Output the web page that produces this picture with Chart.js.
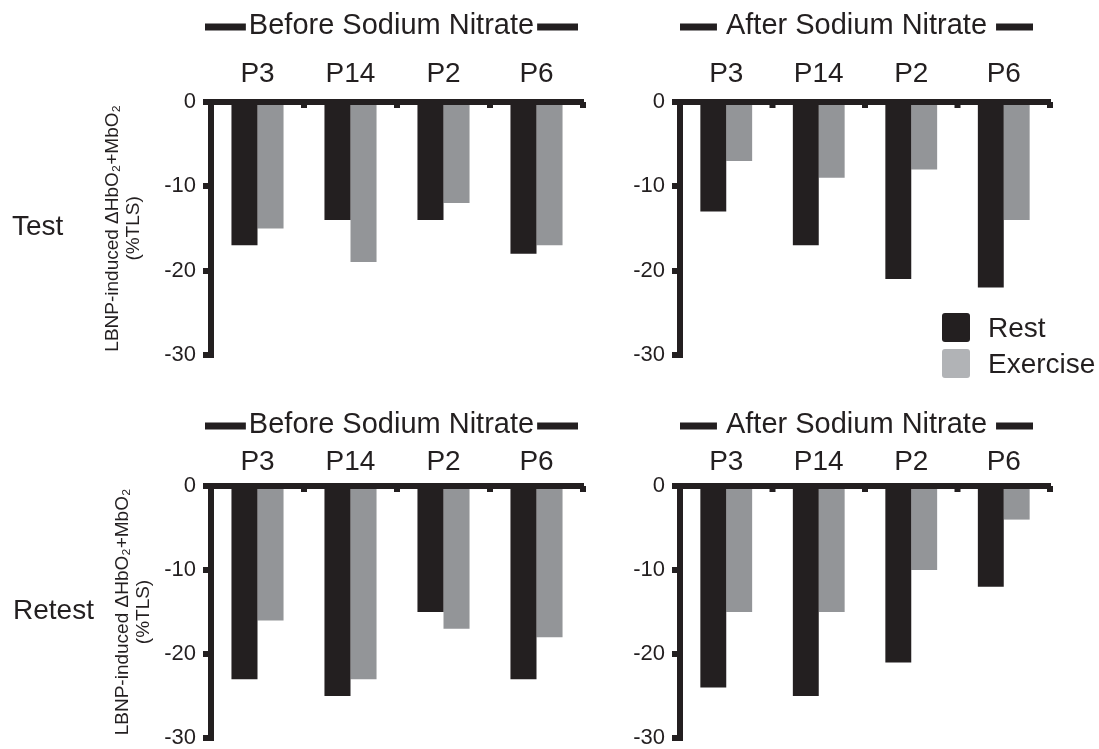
<!DOCTYPE html>
<html lang="en">
<head>
    <meta charset="UTF-8">
    <title>LBNP-induced ΔHbO2+MbO2 — Test / Retest</title>
    <script src="https://cdn.jsdelivr.net/npm/chart.js"></script>
    <style>
        body { margin: 0; background: #fff; overflow: hidden; }
        #page { position: relative; width: 1099px; height: 749px; font-family: "Liberation Sans", Arial, Helvetica, sans-serif; color: #231f20; }
        #page canvas { position: absolute; }
        .row-label { position: absolute; font-size: 28px; line-height: 28px; }
        .legend-item { position: absolute; left: 942px; display: flex; align-items: center; font-size: 28px; line-height: 28px; }
        .legend-item span { display: inline-block; width: 28px; height: 29px; border-radius: 3px; margin-right: 18px; }
    </style>
</head>
<body>
<div id="page">
    <canvas id="testBefore" width="600" height="375" style="left:0;top:0"></canvas>
    <canvas id="testAfter" width="499" height="375" style="left:600px;top:0"></canvas>
    <canvas id="retestBefore" width="600" height="390" style="left:0;top:375px"></canvas>
    <canvas id="retestAfter" width="499" height="390" style="left:600px;top:375px"></canvas>

    <div class="row-label" style="left:12px;top:212px">Test</div>
    <div class="row-label" style="left:13px;top:596px">Retest</div>

    <div class="legend-item" style="top:313px"><span style="background:#231f20"></span>Rest</div>
    <div class="legend-item" style="top:349px"><span style="background:#b1b3b6"></span>Exercise</div>
</div>

<script>
    // values (%TLS)
    const participants = ['P3', 'P14', 'P2', 'P6'];
    const yTicks = [-30, -20, -10, 0];

    const testBeforeRest = [-17, -14, -14, -18];
    const testBeforeExercise = [-15, -19, -12, -17];
    const testAfterRest = [-13, -17, -21, -22];
    const testAfterExercise = [-7, -9, -8, -14];

    const retestBeforeRest = [-23, -25, -15, -23];
    const retestBeforeExercise = [-16, -23, -17, -18];
    const retestAfterRest = [-24, -25, -21, -12];
    const retestAfterExercise = [-15, -15, -10, -4];

    const ink = '#231f20';
    const restColor = '#231f20';
    const exerciseColor = '#939598';
    const fontFamily = '"Liberation Sans", Arial, Helvetica, sans-serif';

    Chart.defaults.font.family = fontFamily;
    Chart.defaults.color = ink;

    // "▬▬ Before Sodium Nitrate ▬▬" heading above each panel
    const bannerPlugin = {
        id: 'banner',
        afterDraw(chart, args, opts) {
            const { ctx, chartArea } = chart;
            const x0 = chartArea.left + opts.startOffset;
            const x1 = chartArea.right + opts.endOffset;
            const mid = (x0 + x1) / 2;
            ctx.save();
            ctx.font = `${opts.size}px ${fontFamily}`;
            const w = ctx.measureText(opts.text).width;
            ctx.fillStyle = ink;
            ctx.textAlign = 'center';
            ctx.textBaseline = 'middle';
            ctx.fillText(opts.text, mid, opts.y);
            const a = mid - w / 2 - opts.gap;
            const b = mid + w / 2 + opts.gap;
            ctx.fillRect(x0, opts.y - 2.5, a - x0, 7);
            ctx.fillRect(b, opts.y - 2.5, x1 - b, 7);
            ctx.restore();
        }
    };

    // small notches under the zero line between participants
    const dividerTicks = {
        id: 'dividerTicks',
        afterDatasetsDraw(chart) {
            const { ctx, chartArea } = chart;
            const x = chart.scales.x;
            const step = x.getPixelForValue(1) - x.getPixelForValue(0);
            ctx.save();
            ctx.fillStyle = ink;
            participants.forEach((p, i) => {
                const px = x.getPixelForValue(i) + step / 2;
                ctx.fillRect(px - 3, chartArea.top, 6, 6);
            });
            ctx.restore();
        }
    };

    function drawPanel(id, rest, exercise, p) {
        new Chart(document.getElementById(id), {
            type: 'bar',
            data: {
                labels: participants,
                datasets: [
                    { label: 'Rest', data: rest, backgroundColor: restColor },
                    { label: 'Exercise', data: exercise, backgroundColor: exerciseColor }
                ]
            },
            options: {
                responsive: false,
                animation: false,
                layout: { padding: { left: 0, top: 0, right: p.padRight, bottom: p.padBottom } },
                datasets: { bar: { categoryPercentage: 0.56, barPercentage: 1 } },
                plugins: {
                    legend: { display: false },
                    tooltip: { enabled: false },
                    banner: p.banner
                },
                scales: {
                    x: {
                        position: 'top',
                        offset: true,
                        grid: { display: false, drawTicks: false },
                        border: { display: true, width: 6, color: ink, z: 1 },
                        ticks: { font: { size: 28 }, padding: p.catPad, maxRotation: 0, color: ink },
                        afterFit: s => { s.height = p.areaTop; }
                    },
                    y: {
                        min: -30,
                        max: 0,
                        afterBuildTicks: s => { s.ticks = yTicks.map(v => ({ value: v })); },
                        grid: { drawOnChartArea: false, tickLength: 8, lineWidth: 6, color: ink },
                        border: { width: 6, color: ink, z: 1 },
                        ticks: { font: { size: 22 }, padding: 7, color: ink },
                        title: {
                            display: p.yTitle,
                            text: ['LBNP-induced \u0394HbO\u2082+MbO\u2082', '(%TLS)'],
                            font: { size: 19, lineHeight: 1.1 },
                            padding: { top: p.yTitlePad, bottom: 0 },
                            color: ink
                        },
                        afterFit: s => { s.width = p.areaLeft; }
                    }
                }
            },
            plugins: [bannerPlugin, dividerTicks]
        });
    }

    const beforeBanner = { text: 'Before Sodium Nitrate', size: 29, startOffset: -6, endOffset: -5, gap: 3 };
    const afterBanner = { text: 'After Sodium Nitrate', size: 29, startOffset: 0, endOffset: -17, gap: 9 };

    drawPanel('testBefore', testBeforeRest, testBeforeExercise, {
        areaLeft: 211, areaTop: 102, padRight: 17, padBottom: 18, catPad: 11, yTitle: true, yTitlePad: 102,
        banner: { ...beforeBanner, y: 26 }
    });
    drawPanel('testAfter', testAfterRest, testAfterExercise, {
        areaLeft: 80, areaTop: 102, padRight: 49, padBottom: 18, catPad: 11, yTitle: false, yTitlePad: 0,
        banner: { ...afterBanner, y: 26 }
    });
    drawPanel('retestBefore', retestBeforeRest, retestBeforeExercise, {
        areaLeft: 211, areaTop: 111, padRight: 17, padBottom: 27, catPad: 7, yTitle: true, yTitlePad: 112,
        banner: { ...beforeBanner, y: 50 }
    });
    drawPanel('retestAfter', retestAfterRest, retestAfterExercise, {
        areaLeft: 80, areaTop: 111, padRight: 49, padBottom: 27, catPad: 7, yTitle: false, yTitlePad: 0,
        banner: { ...afterBanner, y: 50 }
    });
</script>
</body>
</html>
